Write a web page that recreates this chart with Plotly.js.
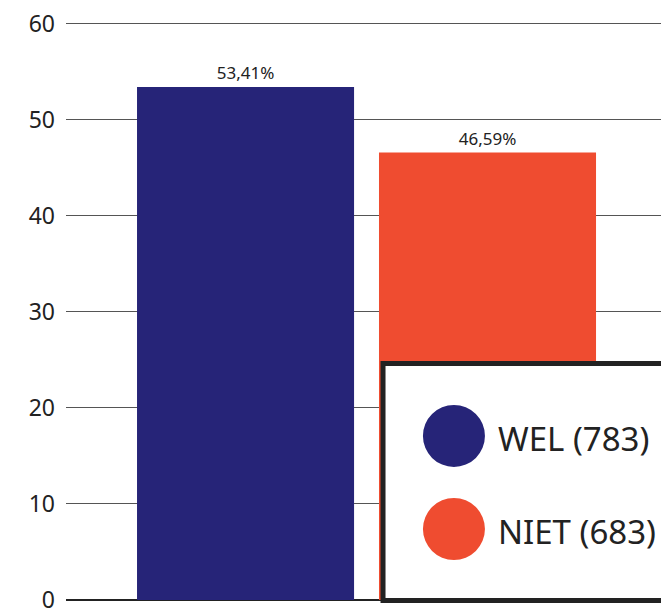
<!DOCTYPE html>
<html>
<head>
<meta charset="utf-8">
<script src="https://cdn.plot.ly/plotly-3.0.1.min.js"></script>
<style>html,body{margin:0;padding:0;background:#fff;}#chart{width:661px;height:614px;}</style>
</head>
<body>
<div id="chart"></div>
<script>
const categories = ["WEL (783)", "NIET (683)"];
const values = [53.41, 46.59];
const colors = ["#262478", "#EF4C30"];
const yTicks = [0, 10, 20, 30, 40, 50, 60];

const trace = {
  type: 'bar',
  x: categories,
  y: values,
  marker: {color: colors, line: {width: 0}},
  texttemplate: '%{y:.2f}%',
  textposition: 'outside',
  cliponaxis: false,
  textfont: {family: 'Noto Sans, sans-serif', size: 17, color: '#222'},
  hoverinfo: 'none',
  showlegend: false
};

const shapes = [
  {type: 'rect', xref: 'paper', yref: 'paper', x0: 0.5328, x1: 1.06, y0: -0.0009, y1: 0.407,
   line: {color: '#222', width: 5}, fillcolor: '#fff', layer: 'above'}
];
const annotations = [];
const legendY = [0.2823, 0.1222];
categories.forEach((c, i) => {
  shapes.push({type: 'circle', xref: 'paper', yref: 'paper', xsizemode: 'pixel', ysizemode: 'pixel',
    xanchor: 0.652, yanchor: legendY[i], x0: -31, x1: 31, y0: -31, y1: 31,
    fillcolor: colors[i], line: {width: 0}, layer: 'above'});
  annotations.push({xref: 'paper', yref: 'paper', x: 0.7227, y: legendY[i] - 0.004, xanchor: 'left', yanchor: 'middle',
    text: c, showarrow: false, font: {family: 'Noto Sans, sans-serif', size: 33, color: '#222'}});
});

const layout = {
  width: 661, height: 614,
  margin: {l: 66, r: 0, t: 19, b: 14, pad: 0},
  paper_bgcolor: '#fff', plot_bgcolor: '#fff',
  separators: ',.',
  bargap: 0.103,
  xaxis: {type: 'category', range: [-0.742, 1.717], showticklabels: false, showgrid: false,
    showline: false, zeroline: false, fixedrange: true},
  yaxis: {range: [0, 60.5], tickvals: yTicks, ticktext: yTicks.map(String), showgrid: true,
    gridcolor: '#555', gridwidth: 1, zeroline: true, zerolinecolor: '#222', zerolinewidth: 2,
    showline: false, ticks: '', ticklabelstandoff: 10, ticklabeloverflow: 'allow',
    tickfont: {family: 'Noto Sans, sans-serif', size: 23, color: '#222'}, fixedrange: true},
  shapes: shapes,
  annotations: annotations,
  showlegend: false
};

Plotly.newPlot('chart', [trace], layout, {staticPlot: true, displayModeBar: false});
</script>
</body>
</html>
